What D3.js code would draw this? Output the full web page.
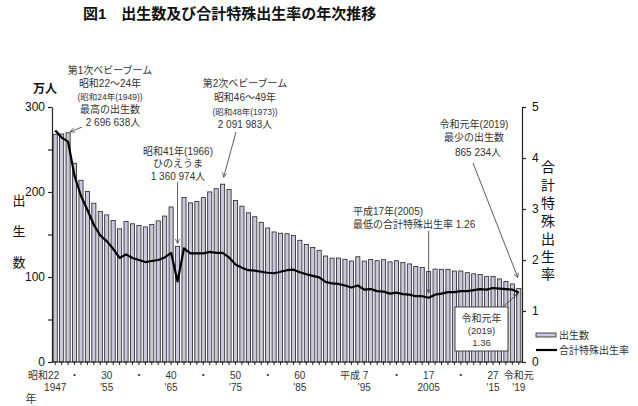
<!DOCTYPE html>
<html><head><meta charset="utf-8">
<script src="https://cdn.jsdelivr.net/npm/d3@7"></script>
<style>
body{margin:0;background:#fff;}
text{font-family:"Liberation Sans","Noto Sans CJK JP",sans-serif;}
</style></head>
<body><svg id="c" width="638" height="406"></svg>
<script>
const years = d3.range(1947, 2020);
// births, in 万人
const births = [267.9,268.2,269.7,233.8,213.8,200.5,186.8,177.0,173.1,166.5,156.7,165.3,162.6,160.6,158.9,161.9,166.0,171.7,182.4,136.1,193.6,187.2,189.0,193.4,200.1,203.9,209.2,203.0,190.1,183.3,175.5,170.9,164.3,157.7,153.0,151.5,150.9,149.0,143.2,138.3,134.7,131.4,124.7,122.2,122.3,120.9,118.8,123.8,118.7,120.7,119.2,120.3,117.8,119.1,117.1,115.4,112.4,111.1,106.3,109.3,109.0,109.1,107.0,107.1,105.1,103.7,103.0,100.4,100.6,97.7,94.6,91.8,86.5];
// total fertility rate
const tfr = [4.54,4.40,4.32,3.65,3.26,2.98,2.69,2.48,2.37,2.22,2.04,2.11,2.04,2.00,1.96,1.98,2.00,2.05,2.14,1.58,2.23,2.13,2.13,2.13,2.16,2.14,2.14,2.05,1.91,1.85,1.80,1.79,1.77,1.75,1.74,1.77,1.80,1.81,1.76,1.72,1.69,1.66,1.57,1.54,1.53,1.50,1.46,1.50,1.42,1.43,1.39,1.38,1.34,1.36,1.33,1.32,1.29,1.29,1.26,1.32,1.34,1.37,1.37,1.39,1.39,1.41,1.43,1.42,1.45,1.44,1.43,1.42,1.36];
const leftTicks = [0,50,100,150,200,250,300];
const rightTicks = [0,1,2,3,4,5];
const xLabels = [
  {year:1947, top:"昭和22", bottom:"1947", anchor:"end", dx:4},
  {year:1950, top:"・", bottom:""},
  {year:1955, top:"30", bottom:"'55"},
  {year:1960, top:"・", bottom:""},
  {year:1965, top:"40", bottom:"'65"},
  {year:1970, top:"・", bottom:""},
  {year:1975, top:"50", bottom:"'75"},
  {year:1980, top:"・", bottom:""},
  {year:1985, top:"60", bottom:"'85"},
  {year:1990, top:"平成 7", bottom:"'95", shift:5, anchor:"end", dx:4},
  {year:2000, top:"・", bottom:""},
  {year:2005, top:"17", bottom:"2005"},
  {year:2010, top:"・", bottom:""},
  {year:2015, top:"27", bottom:"'15"},
  {year:2019, top:"令和元", bottom:"'19"}
];
const title = "図1　出生数及び合計特殊出生率の年次推移";

const svg = d3.select("#c");
const x = d3.scaleBand().domain(years).range([52,522]).paddingInner(0.36).paddingOuter(0.18);
const yL = d3.scaleLinear().domain([0,300]).range([362,107]);
const yR = d3.scaleLinear().domain([0,5]).range([362,107]);
const barFill = "#c9c6dd", ink = "#222", grey="#333";

svg.append("text").attr("x",83).attr("y",13).attr("dominant-baseline","central")
  .attr("font-size",15).attr("font-weight","bold").attr("fill","#111")
  .attr("font-family","Noto Sans CJK JP").text(title);

// bars
svg.append("g").selectAll("rect").data(years).join("rect")
  .attr("x", d => x(d)).attr("width", x.bandwidth())
  .attr("y", (d,i) => yL(births[i])).attr("height", (d,i) => yL(0)-yL(births[i]))
  .attr("fill", barFill).attr("stroke", ink).attr("stroke-width",0.8);

// axes
const gx = svg.append("g").attr("transform","translate(0,362)")
  .call(d3.axisBottom(x).tickSize(3).tickFormat(""));
gx.select(".domain").attr("d","M52,0H522").attr("stroke",ink);
gx.selectAll("line").attr("stroke",ink);

const gl = svg.append("g").attr("transform","translate(52,0)")
  .call(d3.axisLeft(yL).tickValues(leftTicks).tickSize(4).tickSizeOuter(0).tickFormat(d => d%100===0 ? d : ""));
gl.selectAll("text").attr("font-size",12).attr("fill","#111").attr("font-family","Liberation Sans, Arial, sans-serif");
gl.selectAll("line,.domain").attr("stroke",ink).attr("stroke-width",1.2);

const gr = svg.append("g").attr("transform","translate(522,0)")
  .call(d3.axisRight(yR).tickValues(rightTicks).tickSize(4).tickSizeOuter(0).tickPadding(6).tickFormat(d3.format("d")));
gr.selectAll("text").attr("font-size",12).attr("fill","#111").attr("font-family","Liberation Sans, Arial, sans-serif");
gr.selectAll("line,.domain").attr("stroke",ink).attr("stroke-width",1.2);

// TFR line
svg.append("path").datum(tfr)
  .attr("d", d3.line().x((d,i) => x(years[i]) + x.bandwidth()/2).y(d => yR(d)))
  .attr("fill","none").attr("stroke","#000").attr("stroke-width",2.2).attr("stroke-linejoin","round");

// x labels
const xl = svg.append("g").attr("font-size",10).attr("fill",grey);
xLabels.forEach(l => {
  const yr = l.year + (l.shift||0);
  const cx = x(yr) + x.bandwidth()/2;
  xl.append("text").attr("x", cx + (l.dx||0)).attr("y",375.5).attr("dominant-baseline","central")
    .attr("text-anchor", l.anchor||"middle").attr("fill",grey).text(l.top);
  if (l.bottom) xl.append("text").attr("x", cx).attr("y",387).attr("dominant-baseline","central")
    .attr("text-anchor","middle").attr("fill",grey).text(l.bottom);
});
svg.append("text").attr("x",31).attr("y",399).attr("dominant-baseline","central")
  .attr("text-anchor","middle").attr("font-size",11).attr("fill",grey).text("年");

// axis titles
svg.append("text").attr("x",45).attr("y",89).attr("dominant-baseline","central").attr("text-anchor","middle")
  .attr("font-size",12).attr("font-weight","bold").attr("fill","#111").text("万人");
["出","生","数"].forEach((c,i)=>svg.append("text").attr("x",19).attr("y",200+i*31)
  .attr("dominant-baseline","central").attr("text-anchor","middle").attr("font-size",13).attr("fill","#111").text(c));
"合計特殊出生率".split("").forEach((c,i)=>svg.append("text").attr("x",548).attr("y",167+i*17.9)
  .attr("dominant-baseline","central").attr("text-anchor","middle").attr("font-size",14).attr("fill","#111").text(c));

// arrow marker
svg.append("defs").append("marker").attr("id","ah").attr("viewBox","0 0 10 10").attr("refX",9).attr("refY",5)
  .attr("markerWidth",7).attr("markerHeight",7).attr("orient","auto-start-reverse")
  .append("path").attr("d","M1,1L9,5L1,9").attr("fill","none").attr("stroke",grey).attr("stroke-width",1.2);

function note(lines, cx){
  lines.forEach(l => svg.append("text").attr("x", l.x!==undefined ? l.x : cx).attr("y", l.y)
    .attr("dominant-baseline","central").attr("text-anchor", l.a||"middle")
    .attr("font-size", l.s||10).attr("fill",grey).text(l.t));
}
function arrow(x1,y1,x2,y2){
  svg.append("line").attr("x1",x1).attr("y1",y1).attr("x2",x2).attr("y2",y2)
    .attr("stroke",grey).attr("stroke-width",0.8).attr("marker-end","url(#ah)");
}
const bx = yr => x(yr) + x.bandwidth()/2;
const idx = yr => years.indexOf(yr);

note([{t:"第1次ベビーブーム",y:70},{t:"昭和22～24年",y:83},{t:"(昭和24年(1949))",y:97,s:8.5},
      {t:"最高の出生数",y:109},{t:"2 696 638人",y:122,x:113}],110);
arrow(82,127, bx(1949)+2, yL(births[idx(1949)])-1);

note([{t:"第2次ベビーブーム",y:83},{t:"昭和46～49年",y:97},{t:"(昭和48年(1973))",y:112,s:8.5},
      {t:"2 091 983人",y:124}],245);
arrow(236,132, bx(1973)+1, yL(births[idx(1973)])-7);

note([{t:"昭和41年(1966)",y:151},{t:"ひのえうま",y:163},{t:"1 360 974人",y:176}],178);
arrow(bx(1966),182, bx(1966), yL(births[idx(1966)])-3);

note([{t:"平成17年(2005)",y:211,a:"start",x:353},{t:"最低の合計特殊出生率  1.26",y:224,a:"start",x:353}],0);
arrow(bx(2005),231, bx(2005), yR(tfr[idx(2005)])-5);

note([{t:"令和元年(2019)",y:124},{t:"最少の出生数",y:137},{t:"865 234人",y:152,x:478}],474);
arrow(473,163, bx(2019)-1, yL(births[idx(2019)])-11);

// box for 2019 TFR
svg.append("rect").attr("x",455).attr("y",307).attr("width",53).attr("height",44)
  .attr("fill","#fff").attr("stroke",grey).attr("stroke-width",0.9);
note([{t:"令和元年",y:318},{t:"(2019)",y:330,s:9.5},{t:"1.36",y:342,s:9.5}],481.5);
arrow(503,307, bx(2019)-1, yR(tfr[idx(2019)])+1);

// legend
svg.append("rect").attr("x",536).attr("y",333).attr("width",20).attr("height",4)
  .attr("fill",barFill).attr("stroke",ink).attr("stroke-width",0.8);
svg.append("text").attr("x",559).attr("y",335).attr("dominant-baseline","central").attr("font-size",10).attr("fill",grey).text("出生数");
svg.append("line").attr("x1",536).attr("x2",557).attr("y1",350).attr("y2",350).attr("stroke","#000").attr("stroke-width",2.2);
svg.append("text").attr("x",559).attr("y",350).attr("dominant-baseline","central").attr("font-size",10).attr("fill",grey).text("合計特殊出生率");
</script></body></html>
